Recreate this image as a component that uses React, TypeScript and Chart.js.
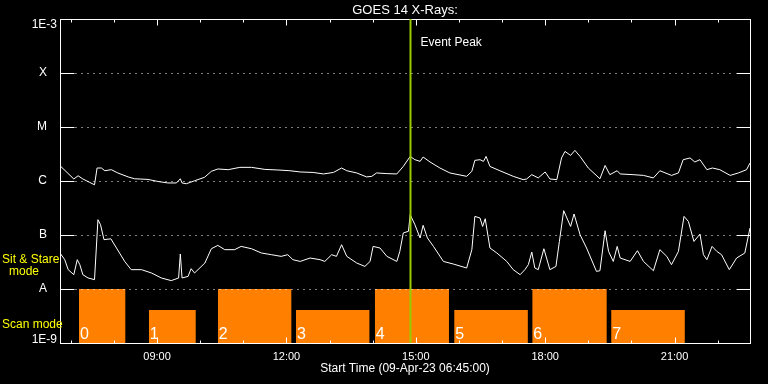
import React, { useEffect, useRef } from 'react';
import { Chart, registerables } from 'chart.js';

Chart.register(...registerables);

const TITLE = 'GOES 14 X-Rays:';
const X_TITLE = 'Start Time (09-Apr-23 06:45:00)';
const X_MIN = 6.75;
const X_MAX = 22.75;
const Y_MIN = 1e-9;
const Y_MAX = 1e-3;

const xTickHours = [9, 12, 15, 18, 21];
const xTickLabels = ['09:00', '12:00', '15:00', '18:00', '21:00'];
const xMinorHours = [7, 8, 9, 10, 11, 12, 13, 14, 15, 16, 17, 18, 19, 20, 21, 22];
const yTickValues = [1e-9, 1e-8, 1e-7, 1e-6, 1e-5, 1e-4, 1e-3];
const yTickLabels = ['1E-9', 'A', 'B', 'C', 'M', 'X', '1E-3'];

const eventPeakHour = 14.87;
const eventPeakLabel = 'Event Peak';

// GOES long channel (1-8 A)
const longTimes = [6.75, 7.07, 7.17, 7.28, 7.44, 7.55, 7.61, 7.71, 7.79, 7.94, 8.09, 8.33, 8.48, 8.79, 9.02, 9.25, 9.45, 9.54, 9.58, 9.68, 9.87, 10.10, 10.26, 10.41, 10.65, 10.92, 11.19, 11.50, 11.80, 12.08, 12.32, 12.62, 12.86, 13.09, 13.28, 13.40, 13.63, 13.86, 13.98, 14.09, 14.33, 14.56, 14.71, 14.87, 14.98, 15.10, 15.17, 15.33, 15.56, 15.79, 16.18, 16.30, 16.37, 16.49, 16.57, 16.63, 16.72, 16.95, 17.26, 17.49, 17.57, 17.69, 17.84, 18.00, 18.11, 18.27, 18.38, 18.46, 18.59, 18.69, 18.81, 19.00, 19.27, 19.39, 19.50, 19.67, 19.74, 20.04, 20.28, 20.51, 20.66, 20.93, 21.09, 21.20, 21.36, 21.47, 21.59, 21.75, 21.88, 22.05, 22.29, 22.48, 22.67, 22.75];
const longFlux = [1.92e-6, 1.09e-6, 1.25e-6, 1.09e-6, 0.94e-6, 0.85e-6, 1.74e-6, 1.74e-6, 1.55e-6, 1.62e-6, 1.41e-6, 1.19e-6, 1.10e-6, 1.07e-6, 0.98e-6, 0.92e-6, 0.92e-6, 1.10e-6, 0.92e-6, 0.89e-6, 1.01e-6, 1.17e-6, 1.51e-6, 1.67e-6, 1.62e-6, 1.79e-6, 1.79e-6, 1.64e-6, 1.60e-6, 1.55e-6, 1.47e-6, 1.44e-6, 1.35e-6, 1.44e-6, 1.74e-6, 1.55e-6, 1.41e-6, 1.19e-6, 1.22e-6, 1.41e-6, 1.37e-6, 1.35e-6, 1.86e-6, 2.85e-6, 2.48e-6, 2.31e-6, 2.78e-6, 2.25e-6, 1.74e-6, 1.41e-6, 1.22e-6, 1.51e-6, 2.41e-6, 2.48e-6, 2.31e-6, 2.85e-6, 1.86e-6, 1.55e-6, 1.22e-6, 1.06e-6, 1.09e-6, 1.31e-6, 1.14e-6, 1.47e-6, 1.09e-6, 1.06e-6, 2.67e-6, 3.53e-6, 2.98e-6, 3.69e-6, 2.85e-6, 1.74e-6, 1.10e-6, 1.94e-6, 1.31e-6, 1.55e-6, 1.35e-6, 1.31e-6, 1.27e-6, 1.14e-6, 1.55e-6, 1.27e-6, 1.41e-6, 2.48e-6, 2.67e-6, 2.25e-6, 2.48e-6, 1.62e-6, 1.74e-6, 1.62e-6, 1.27e-6, 1.41e-6, 1.62e-6, 2.15e-6];

// GOES short channel (0.5-4 A)
const shortTimes = [6.75, 6.86, 6.94, 7.07, 7.15, 7.21, 7.28, 7.40, 7.55, 7.63, 7.69, 7.77, 7.93, 8.06, 8.25, 8.40, 8.64, 8.87, 9.10, 9.33, 9.50, 9.54, 9.58, 9.72, 9.79, 9.87, 10.11, 10.26, 10.41, 10.57, 10.80, 10.95, 11.19, 11.42, 11.65, 11.88, 12.03, 12.15, 12.32, 12.55, 12.78, 12.89, 13.05, 13.16, 13.28, 13.40, 13.63, 13.82, 13.94, 14.01, 14.17, 14.33, 14.56, 14.63, 14.71, 14.83, 14.87, 14.98, 15.10, 15.17, 15.27, 15.41, 15.64, 15.87, 16.18, 16.30, 16.37, 16.49, 16.55, 16.61, 16.72, 16.88, 17.11, 17.26, 17.42, 17.53, 17.61, 17.69, 17.76, 17.84, 17.97, 18.11, 18.25, 18.33, 18.43, 18.59, 18.67, 18.81, 18.96, 19.19, 19.27, 19.39, 19.47, 19.58, 19.67, 19.74, 19.97, 20.14, 20.28, 20.51, 20.66, 20.82, 20.93, 21.09, 21.22, 21.32, 21.45, 21.59, 21.67, 21.75, 21.87, 21.98, 22.09, 22.27, 22.44, 22.63, 22.75];
const shortFlux = [4.64e-8, 3.49e-8, 2.28e-8, 1.84e-8, 3.49e-8, 2.82e-8, 1.84e-8, 1.60e-8, 1.49e-8, 1.92e-7, 1.55e-7, 8.2e-8, 8.5e-8, 5.74e-8, 3.24e-8, 2.28e-8, 2.28e-8, 1.98e-8, 1.60e-8, 1.43e-8, 1.60e-8, 4.45e-8, 1.60e-8, 1.71e-8, 2.38e-8, 1.98e-8, 3.03e-8, 5.57e-8, 6.42e-8, 5.35e-8, 5.35e-8, 6.15e-8, 5.57e-8, 4.64e-8, 4.32e-8, 4.02e-8, 4.32e-8, 3.49e-8, 3.24e-8, 3.75e-8, 3.49e-8, 3.24e-8, 4.32e-8, 4.02e-8, 6.61e-8, 4.02e-8, 3.03e-8, 2.62e-8, 3.24e-8, 6.15e-8, 5.74e-8, 4.02e-8, 3.24e-8, 4.97e-8, 1.09e-7, 1.17e-7, 2.38e-7, 1.55e-7, 8.8e-8, 1.51e-7, 8.8e-8, 6.15e-8, 3.24e-8, 2.90e-8, 2.45e-8, 5.35e-8, 2.21e-7, 2.06e-7, 1.44e-7, 2.00e-7, 5.74e-8, 4.64e-8, 3.24e-8, 2.28e-8, 1.84e-8, 2.28e-8, 2.82e-8, 4.84e-8, 2.45e-8, 2.28e-8, 5.57e-8, 2.28e-8, 2.62e-8, 7.6e-8, 2.82e-7, 1.44e-7, 2.45e-7, 1.01e-7, 5.74e-8, 2.12e-8, 2.18e-8, 1.20e-7, 4.97e-8, 3.24e-8, 6.15e-8, 3.75e-8, 3.24e-8, 5.12e-8, 3.24e-8, 2.18e-8, 5.35e-8, 4.02e-8, 2.82e-8, 4.97e-8, 2.21e-7, 1.79e-7, 7.6e-8, 1.04e-7, 4.32e-8, 3.49e-8, 6.15e-8, 4.97e-8, 4.32e-8, 2.28e-8, 3.75e-8, 4.64e-8, 1.35e-7];

// Instrument mode blocks
const scanLabels = ['0', '1', '2', '3', '4', '5', '6', '7'];
const scanStart = [7.19, 8.81, 10.41, 12.22, 14.05, 15.89, 17.70, 19.53];
const scanEnd = [8.27, 9.90, 12.12, 13.93, 15.77, 17.60, 19.43, 21.24];
const scanTop = [1e-8, 4.1e-9, 1e-8, 4.1e-9, 1e-8, 4.1e-9, 1e-8, 4.1e-9];

const modeSitStare = ['Sit & Stare', 'mode'];
const modeScan = 'Scan mode';

const FONT = '"Liberation Sans", Arial, sans-serif';
const ORANGE = '#ff8000';
const GREEN = '#99cc00';
const YELLOW = '#ffff00';

const overlayPlugin = {
  id: 'overlay',
  afterDatasetsDraw(chart: any) {
    const { ctx, chartArea: a, scales } = chart;
    const x = scales.x;
    const y = scales.y;
    const L = Math.round(a.left) + 0.5;
    const R = Math.round(a.right) + 0.5;
    const T = Math.round(a.top) + 0.5;
    const B = Math.round(a.bottom) + 0.5;
    const seg = (x1: number, y1: number, x2: number, y2: number) => {
      ctx.beginPath();
      ctx.moveTo(x1, y1);
      ctx.lineTo(x2, y2);
      ctx.stroke();
    };
    ctx.save();
    ctx.strokeStyle = '#ffffff';
    ctx.lineWidth = 1;
    // dotted levels
    ctx.setLineDash([1, 5]);
    yTickValues.slice(1, -1).forEach((v) => {
      const py = Math.round(y.getPixelForValue(v)) + 0.5;
      seg(L + 15, py, R - 15, py);
    });
    ctx.setLineDash([]);
    yTickValues.slice(1, -1).forEach((v) => {
      const py = Math.round(y.getPixelForValue(v)) + 0.5;
      seg(L, py, L + 14, py);
      seg(R - 14, py, R, py);
    });
    // frame
    ctx.strokeRect(L, T, R - L, B - T);
    // time ticks
    xMinorHours.forEach((h) => {
      const px = Math.round(x.getPixelForValue(h)) + 0.5;
      const len = xTickHours.includes(h) ? 6 : 3;
      seg(px, T, px, T + len);
      seg(px, B, px, B - len);
    });
    // end labels of the flux axis (placed inside the range, as in the original)
    ctx.fillStyle = '#ffffff';
    ctx.font = `12px ${FONT}`;
    ctx.textAlign = 'right';
    ctx.textBaseline = 'alphabetic';
    ctx.fillText(yTickLabels[yTickLabels.length - 1], a.left - 3, y.getPixelForValue(Y_MAX) + 9);
    ctx.fillText(yTickLabels[0], a.left - 3, y.getPixelForValue(Y_MIN));
    // event peak
    const ex = Math.round(x.getPixelForValue(eventPeakHour)) + 0.5;
    ctx.strokeStyle = GREEN;
    ctx.lineWidth = 2;
    seg(ex, a.top, ex, a.bottom);
    ctx.fillStyle = '#ffffff';
    ctx.font = `12px ${FONT}`;
    ctx.textAlign = 'left';
    ctx.textBaseline = 'middle';
    ctx.fillText(eventPeakLabel, ex + 10, a.top + 24);
    // block labels
    ctx.font = `16px ${FONT}`;
    ctx.textBaseline = 'alphabetic';
    scanStart.forEach((s, i) => {
      ctx.fillText(scanLabels[i], x.getPixelForValue(s) + 1, a.bottom - 4);
    });
    // mode labels
    ctx.fillStyle = YELLOW;
    ctx.font = `12px ${FONT}`;
    ctx.textAlign = 'left';
    ctx.fillText(modeSitStare[0], 2, 263);
    ctx.textAlign = 'center';
    ctx.fillText(modeSitStare[1], 24, 275);
    ctx.textAlign = 'left';
    ctx.fillText(modeScan, 2, 328);
    ctx.restore();
  },
};

export default function App() {
  const ref = useRef<HTMLCanvasElement | null>(null);
  useEffect(() => {
    document.body.style.margin = '0';
    document.body.style.background = '#000';
    const canvas = ref.current;
    if (!canvas) return;
    const blocks = scanStart.map((s, i) => ({
      type: 'line' as const,
      data: [
        { x: s, y: Y_MIN },
        { x: s, y: scanTop[i] },
        { x: scanEnd[i], y: scanTop[i] },
        { x: scanEnd[i], y: Y_MIN },
      ],
      backgroundColor: ORANGE,
      borderColor: 'rgba(0,0,0,0)',
      borderWidth: 0,
      pointRadius: 0,
      fill: 'start',
      tension: 0,
    }));
    const chart = new Chart(canvas, {
      type: 'line',
      data: {
        datasets: [
          ...blocks,
          {
            label: 'long',
            data: longTimes.map((t, i) => ({ x: t, y: longFlux[i] })),
            borderColor: '#ffffff',
            borderWidth: 1,
            pointRadius: 0,
            fill: false,
            tension: 0,
          },
          {
            label: 'short',
            data: shortTimes.map((t, i) => ({ x: t, y: shortFlux[i] })),
            borderColor: '#ffffff',
            borderWidth: 1,
            pointRadius: 0,
            fill: false,
            tension: 0,
          },
        ] as any,
      },
      options: {
        animation: false,
        responsive: true,
        maintainAspectRatio: false,
        devicePixelRatio: 1,
        layout: { padding: { left: 0, right: 18, top: 0, bottom: 0 } },
        plugins: {
          legend: { display: false },
          tooltip: { enabled: false },
          title: {
            display: true,
            text: TITLE,
            color: '#ffffff',
            fullSize: false,
            font: { family: FONT, size: 13, weight: 'normal', lineHeight: 1.2 },
            padding: { top: 2.4, bottom: 1 },
          },
        },
        scales: {
          x: {
            type: 'linear',
            min: X_MIN,
            max: X_MAX,
            afterBuildTicks: (s: any) => {
              s.ticks = xTickHours.map((v) => ({ value: v }));
            },
            afterFit: (s: any) => {
              s.height = 41;
            },
            ticks: {
              color: '#ffffff',
              font: { family: FONT, size: 11 },
              padding: 7,
              autoSkip: false,
              maxRotation: 0,
              callback: (_v: any, i: number) => xTickLabels[i],
            },
            grid: { display: false, drawTicks: false },
            border: { display: false },
            title: {
              display: true,
              text: X_TITLE,
              color: '#ffffff',
              font: { family: FONT, size: 12 },
              padding: { top: 0, bottom: 8 },
            },
          },
          y: {
            type: 'logarithmic',
            min: Y_MIN,
            max: Y_MAX,
            afterBuildTicks: (s: any) => {
              s.ticks = yTickValues.map((v) => ({ value: v }));
            },
            afterFit: (s: any) => {
              s.width = 60;
            },
            ticks: {
              color: '#ffffff',
              font: { family: FONT, size: 12 },
              padding: 3,
              autoSkip: false,
              callback: (_v: any, i: number) =>
                i === 0 || i === yTickLabels.length - 1 ? '' : yTickLabels[i] + '   ',
            },
            grid: { display: false, drawTicks: false },
            border: { display: false },
          },
        },
      } as any,
      plugins: [overlayPlugin],
    });
    return () => chart.destroy();
  }, []);
  return (
    <div style={{ position: 'absolute', left: 0, top: 0, width: 768, height: 384, background: '#000' }}>
      <canvas ref={ref} />
    </div>
  );
}
